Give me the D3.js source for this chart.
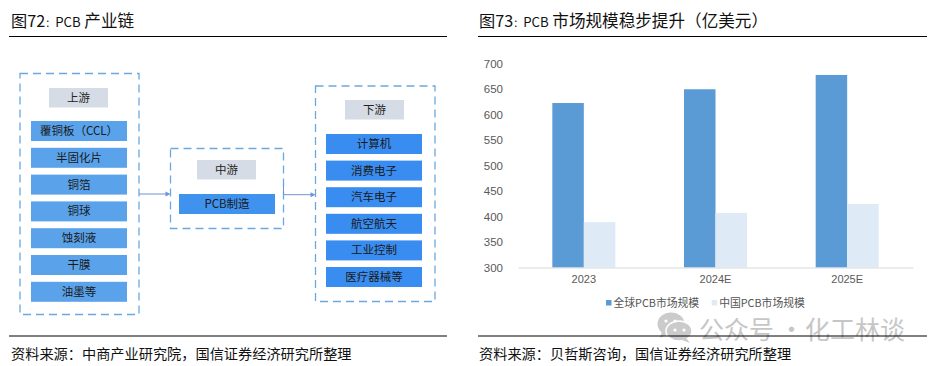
<!DOCTYPE html>
<html>
<head>
<meta charset="utf-8">
<script src="https://cdn.jsdelivr.net/npm/d3@7"></script>
<style>
    body { margin: 0; background: #fff; }
    svg { display: block; }
    text { font-family: "Noto Sans CJK SC", sans-serif; }
    .num text, text.num { font-family: "Liberation Sans", sans-serif; }
</style>
</head>
<body>
<div id="chart"></div>
<script>
// left panel: industry chain
const upstream = ["覆铜板（CCL）", "半固化片", "铜箔", "铜球", "蚀刻液", "干膜", "油墨等"];
const midstream = ["PCB制造"];
const downstream = ["计算机", "消费电子", "汽车电子", "航空航天", "工业控制", "医疗器械等"];
const stage_names = ["上游", "中游", "下游"];

// right panel: market size, 亿美元
const years = ["2023", "2024E", "2025E"];
const series_names = ["全球PCB市场规模", "中国PCB市场规模"];
const global_pcb = [622.5, 649.5, 677.5];
const china_pcb = [389, 407, 424.5];
const y_ticks = [300, 350, 400, 450, 500, 550, 600, 650, 700];

const width = 935, height = 366;

const svg = d3.select("#chart").append("svg")
    .attr("width", width)
    .attr("height", height);

// headers, rules and footers
const panels = [
    {x0: 9, x1: 447, tx: 11, head: "图72", tail: " 产业链", source: "资料来源：中商产业研究院，国信证券经济研究所整理"},
    {x0: 478, x1: 927, tx: 479, head: "图73", tail: " 市场规模稳步提升（亿美元）", source: "资料来源：贝哲斯咨询，国信证券经济研究所整理"}
];

// watermark goes under the rule
const wm = svg.append("g").attr("fill", "#c9c9c9").attr("opacity", 0.95);
wm.append("ellipse").attr("cx", 671).attr("cy", 324).attr("rx", 13.5).attr("ry", 11.5);
wm.append("path").attr("d", "M662 331 L660 338 L668 334 Z");
wm.append("ellipse").attr("cx", 679).attr("cy", 331).attr("rx", 13).attr("ry", 10)
    .attr("stroke", "#fff").attr("stroke-width", 1.5);
wm.append("path").attr("d", "M686 338 L690 343 L682 340 Z");
[[666, 321], [675, 321], [675, 330], [684, 330]].forEach(function (p) {
    wm.append("circle").attr("cx", p[0]).attr("cy", p[1]).attr("r", 1.6).attr("fill", "#fff");
});
[[699, "公众号"], [779, "·"], [805, "化工林谈"]].forEach(function (t) {
    wm.append("text")
        .attr("x", t[0])
        .attr("y", 339)
        .attr("font-size", 25)
        .attr("fill", "#c4c4c4")
        .text(t[1]);
});

panels.forEach(function (p) {
    const title = svg.append("text").attr("x", p.tx).attr("y", 27)
        .attr("font-size", 16.2).attr("fill", "#111")
        .attr("xml:space", "preserve");
    title.append("tspan").text(p.head);
    // colon and Latin part are set tighter than the Chinese in the reference
    title.append("tspan").attr("font-size", 10).text("：");
    title.append("tspan").attr("font-size", 13.2).text("PCB");
    title.append("tspan").attr("font-size", 16.6).text(p.tail);

    svg.append("text").attr("x", p.tx).attr("y", 359)
        .attr("font-size", 14.2).attr("fill", "#111")
        .text(p.source);
    [36.5, 336].forEach(function (y) {
        svg.append("line")
            .attr("x1", p.x0).attr("x2", p.x1)
            .attr("y1", y).attr("y2", y)
            .attr("stroke", "#000").attr("stroke-width", 1);
    });
});

// flow diagram, one column per stage
const columns = [
    {items: upstream, fill: "#5aa3ea", x: 20, w: 119, top: 73.5, bottom: 314.5, label_x: 49, label_top: 88, item_x: 31, item_top: 121, step: 26.8},
    {items: midstream, fill: "#3f92ee", x: 170.5, w: 113, top: 148.5, bottom: 228.5, label_x: 197, label_top: 160, item_x: 179, item_top: 194, step: 26.8},
    {items: downstream, fill: "#3a8df0", x: 315.5, w: 119.5, top: 86, bottom: 301.5, label_x: 345, label_top: 100, item_x: 326, item_top: 134, step: 26.6}
];

const flow = svg.append("g");

columns.forEach(function (c, ix) {
    flow.append("rect")
        .attr("x", c.x).attr("y", c.top)
        .attr("width", c.w).attr("height", c.bottom - c.top)
        .attr("fill", "none")
        .attr("stroke", "#6aa8e0")
        .attr("stroke-width", 1.3)
        .attr("stroke-dasharray", "8,5");

    flow.append("rect")
        .attr("x", c.label_x).attr("y", c.label_top)
        .attr("width", 59).attr("height", 19.5)
        .attr("fill", "#d6dce5");

    flow.append("text")
        .attr("x", c.label_x + 29.5).attr("y", c.label_top + 14)
        .attr("text-anchor", "middle")
        .attr("font-size", 11.5).attr("fill", "#222")
        .text(stage_names[ix]);

    const row = d3.scaleLinear()
        .domain([0, 1])
        .range([c.item_top, c.item_top + c.step]);

    flow.selectAll(".item" + ix)
        .data(c.items).enter()
        .append("rect")
        .attr("x", c.item_x)
        .attr("y", function (d, i) { return row(i); })
        .attr("width", 96)
        .attr("height", 20)
        .attr("fill", c.fill);

    flow.selectAll(".label" + ix)
        .data(c.items).enter()
        .append("text")
        .attr("x", c.item_x + 48)
        .attr("y", function (d, i) { return row(i) + 14; })
        .attr("text-anchor", "middle")
        .attr("font-size", 11.5)
        .attr("fill", "#1a1a1a")
        .text(function (d) { return d; });
});

// arrows between the stages
const arrows = [[139, 170.5, 194], [283.5, 315.5, 194.7]];
arrows.forEach(function (a) {
    flow.append("line")
        .attr("x1", a[0]).attr("x2", a[1] - 4)
        .attr("y1", a[2]).attr("y2", a[2])
        .attr("stroke", "#6f94d6").attr("stroke-width", 1);
    flow.append("path")
        .attr("d", "M" + (a[1] - 5) + " " + (a[2] - 2.5) + " L" + a[1] + " " + a[2] + " L" + (a[1] - 5) + " " + (a[2] + 2.5) + " Z")
        .attr("fill", "#6f94d6");
});
flow.append("line")
    .attr("x1", 283.5).attr("x2", 283.5)
    .attr("y1", 185).attr("y2", 194.7)
    .attr("stroke", "#6f94d6").attr("stroke-width", 1);

// bar chart
const x = d3.scaleBand().domain(years).range([518, 913]);
const y = d3.scaleLinear().domain([300, 700]).range([267.5, 63.5]);
const bar_w = 31.5;

const colors = ["#5b9bd5", "#deebf7"];
[global_pcb, china_pcb].forEach(function (vals, s) {
    svg.selectAll(".bar" + s)
        .data(vals).enter()
        .append("rect")
        .attr("x", function (d, i) { return x(years[i]) + x.bandwidth() / 2 + (s - 1) * bar_w; })
        .attr("y", function (d) { return y(d); })
        .attr("width", bar_w)
        .attr("height", function (d) { return y(300) - y(d); })
        .attr("fill", colors[s]);
});

const y_axis = svg.append("g")
    .attr("class", "num")
    .attr("transform", "translate(518,0)")
    .call(d3.axisLeft(y).tickValues(y_ticks).tickSize(0).tickPadding(15));
y_axis.select(".domain").remove();
y_axis.selectAll("text").attr("font-size", 11.5).attr("fill", "#595959");

const x_axis = svg.append("g")
    .attr("class", "num")
    .attr("transform", "translate(0,267.5)")
    .call(d3.axisBottom(x).tickSize(0).tickPadding(8));
x_axis.select(".domain").attr("stroke", "#d9d9d9").attr("stroke-width", 1);
x_axis.selectAll("text").attr("font-size", 11).attr("fill", "#595959");

// legend
const legend_x = [606, 711.7];
series_names.forEach(function (name, i) {
    svg.append("rect")
        .attr("x", legend_x[i]).attr("y", 300)
        .attr("width", 5.5).attr("height", 5.5)
        .attr("fill", colors[i]);
    svg.append("text")
        .attr("x", legend_x[i] + 7.5).attr("y", 307)
        .attr("font-size", 10.8).attr("fill", "#555")
        .text(name);
});
</script>
</body>
</html>
